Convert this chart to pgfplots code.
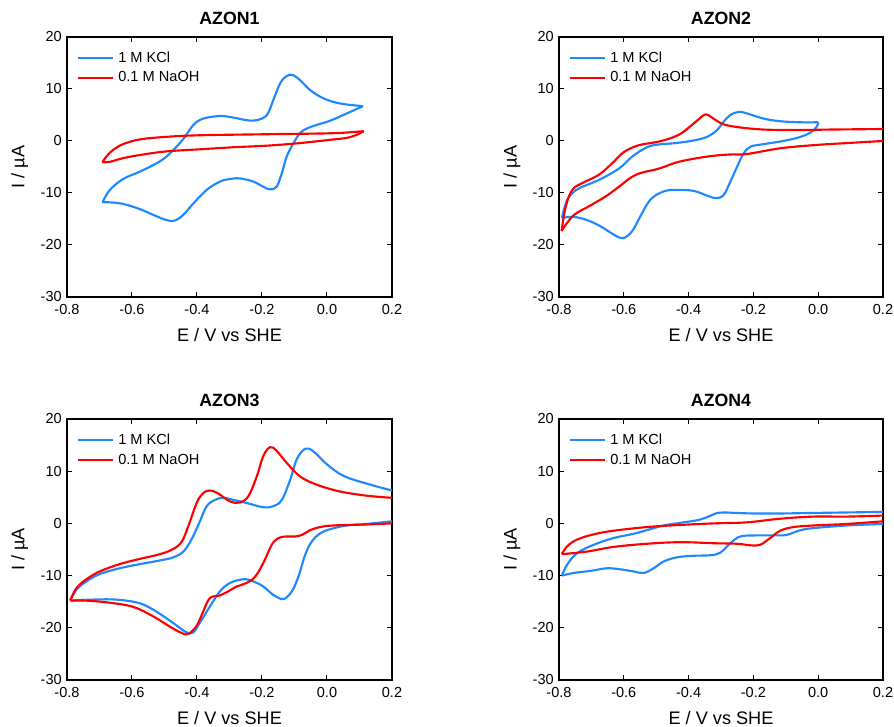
\documentclass[border=0pt]{standalone}
\usepackage{fontspec}
\setmainfont{Liberation Sans}
\usepackage{pgfplots}
\pgfplotsset{compat=1.18}
\definecolor{cblue}{RGB}{30,136,255}
\definecolor{cred}{RGB}{255,0,0}
\pgfplotsset{
  cvaxis/.style={
    scale only axis, width=243.75pt, height=195pt,
    xmin=-0.8, xmax=0.2, ymin=-30, ymax=20,
    xtick={-0.8,-0.6,-0.4,-0.2,0,0.2},
    ytick={-30,-20,-10,0,10,20},
    tick align=inside, major tick length=3.4pt,
    every tick/.style={black, line width=0.75pt},
    axis line style={line width=0.9pt},
    clip=true,
    /pgf/number format/assume math mode=true,
    xticklabel style={/pgf/number format/fixed, /pgf/number format/fixed zerofill, /pgf/number format/precision=1,
      anchor=base, yshift=-13.5pt, font=\fontsize{10.9pt}{13pt}\selectfont},
    yticklabel style={anchor=east, inner sep=0pt, xshift=-3.75pt, font=\fontsize{10.9pt}{13pt}\selectfont},
    every axis title/.style={at={(axis description cs:0.5,1.049)}, anchor=base, font=\bfseries\fontsize{13.3pt}{16pt}\selectfont},
    every axis x label/.style={at={(axis description cs:0.5,-0.171)}, anchor=base, font=\fontsize{13.6pt}{16pt}\selectfont},
    every axis y label/.style={at={(axis description cs:-0.131,0.5)}, rotate=90, anchor=base, font=\fontsize{13.6pt}{16pt}\selectfont},
    xlabel={E / V vs SHE}, ylabel={I / µA},
    legend style={draw=none, fill=none, at={(axis description cs:0.0297,0.949)}, anchor=north west,
      inner sep=0pt, row sep=3.5pt, column sep=2.2pt, font=\fontsize{10.95pt}{13pt}\selectfont, nodes={inner sep=1pt}},
    legend cell align=left,
    legend image code/.code={\draw[##1, line width=1.6pt] (0pt,0pt) -- (26.25pt,0pt);},
  },
  kcl/.style={cblue, line width=1.6pt, smooth, tension=0.6, no markers},
  naoh/.style={cred, line width=1.6pt, smooth, tension=0.6, no markers},
}
\begin{document}
\begin{tikzpicture}
\useasboundingbox (0,0) rectangle (670.5pt,545.25pt);

% ---------------- AZON1 ----------------
\begin{axis}[cvaxis, at={(50.25pt,322.5pt)}, anchor=south west, title={AZON1}]
\addplot[kcl] coordinates {(-0.691,-11.8) (-0.668,-9.4) (-0.627,-7.3) (-0.576,-5.9) (-0.525,-4.3) (-0.494,-3.0) (-0.463,-1.1) (-0.437,0.8) (-0.411,3.1) (-0.381,4.3) (-0.329,4.8) (-0.288,4.5) (-0.247,4.0) (-0.216,4.0) (-0.185,5.0) (-0.165,7.9) (-0.144,11.1) (-0.124,12.5) (-0.105,12.7) (-0.083,11.7) (-0.052,9.8) (-0.011,8.2) (0.041,7.2) (0.111,6.7)};
\addlegendentry{1 M KCl}
\addplot[kcl, forget plot] coordinates {(0.111,6.7) (0.061,5.3) (0.010,3.9) (-0.021,3.3) (-0.062,2.4) (-0.083,1.5) (-0.103,-0.4) (-0.124,-3.0) (-0.139,-6.2) (-0.155,-8.8) (-0.175,-9.3) (-0.196,-8.8) (-0.227,-7.8) (-0.268,-7.2) (-0.298,-7.3) (-0.329,-7.8) (-0.370,-9.4) (-0.411,-12.0) (-0.442,-14.2) (-0.468,-15.3) (-0.494,-15.2) (-0.535,-14.2) (-0.576,-13.1) (-0.627,-12.1) (-0.668,-11.8) (-0.691,-11.8)};
\addplot[naoh] coordinates {(-0.691,-4.1) (-0.679,-3.0) (-0.658,-1.7) (-0.627,-0.6) (-0.576,0.3) (-0.494,0.8) (-0.391,1.1) (-0.185,1.3) (0.020,1.5) (0.113,1.9)};
\addlegendentry{0.1 M NaOH}
\addplot[naoh, forget plot] coordinates {(0.113,1.9) (0.092,1.2) (0.061,0.6) (0.020,0.3) (-0.083,-0.4) (-0.185,-0.9) (-0.288,-1.2) (-0.391,-1.6) (-0.494,-2.0) (-0.576,-2.7) (-0.627,-3.3) (-0.668,-4.0) (-0.691,-4.1)};
\end{axis}

% ---------------- AZON2 ----------------
\begin{axis}[cvaxis, width=243pt, at={(419.25pt,322.5pt)}, anchor=south west, title={AZON2}]
\addplot[kcl] coordinates {(-0.791,-14.8) (-0.783,-12.8) (-0.769,-10.7) (-0.738,-9.1) (-0.677,-7.5) (-0.615,-5.3) (-0.574,-3.0) (-0.540,-1.6) (-0.508,-0.8) (-0.440,-0.4) (-0.384,0.1) (-0.343,0.8) (-0.312,2.1) (-0.292,3.7) (-0.271,5.0) (-0.245,5.6) (-0.220,5.3) (-0.168,4.3) (-0.117,3.8) (-0.055,3.6) (0.0,3.6)};
\addlegendentry{1 M KCl}
\addplot[kcl, forget plot] coordinates {(0.0,3.6) (-0.003,2.9) (-0.024,1.6) (-0.065,0.6) (-0.117,-0.1) (-0.168,-0.6) (-0.209,-1.1) (-0.230,-2.4) (-0.250,-4.9) (-0.271,-7.8) (-0.292,-10.4) (-0.317,-11.0) (-0.343,-10.5) (-0.384,-9.6) (-0.436,-9.4) (-0.477,-9.7) (-0.518,-11.3) (-0.549,-14.5) (-0.575,-17.4) (-0.603,-18.7) (-0.631,-18.0) (-0.672,-16.4) (-0.714,-15.2) (-0.755,-14.6) (-0.791,-14.8)};
\addplot[naoh] coordinates {(-0.792,-17.3) (-0.779,-12.6) (-0.759,-9.4) (-0.728,-8.1) (-0.677,-6.5) (-0.636,-4.3) (-0.599,-2.1) (-0.553,-0.8) (-0.491,-0.1) (-0.430,1.2) (-0.378,3.7) (-0.348,5.1) (-0.323,4.3) (-0.292,3.2) (-0.240,2.6) (-0.168,2.2) (-0.065,2.1) (0.037,2.2) (0.2,2.3)};
\addlegendentry{0.1 M NaOH}
\addplot[naoh, forget plot] coordinates {(0.2,0.0) (0.089,-0.4) (-0.014,-0.8) (-0.117,-1.4) (-0.220,-2.5) (-0.275,-2.6) (-0.343,-3.0) (-0.430,-4.0) (-0.491,-5.3) (-0.563,-6.5) (-0.615,-8.8) (-0.652,-10.5) (-0.703,-12.4) (-0.755,-14.3) (-0.792,-17.3)};
\end{axis}

% ---------------- AZON3 ----------------
\begin{axis}[cvaxis, height=195.75pt, at={(50.25pt,35.25pt)}, anchor=south west, title={AZON3}]
\addplot[kcl] coordinates {(-0.790,-14.8) (-0.771,-12.7) (-0.740,-11.1) (-0.699,-9.7) (-0.638,-8.6) (-0.576,-7.8) (-0.514,-7.1) (-0.473,-6.5) (-0.442,-5.4) (-0.417,-3.1) (-0.391,0.4) (-0.370,3.3) (-0.345,4.5) (-0.319,4.9) (-0.288,4.5) (-0.247,3.9) (-0.196,3.1) (-0.165,3.3) (-0.139,4.5) (-0.113,8.4) (-0.093,12.3) (-0.067,14.3) (-0.042,13.8) (0.000,11.3) (0.051,9.1) (0.123,7.6) (0.2,6.3)};
\addlegendentry{1 M KCl}
\addplot[kcl, forget plot] coordinates {(0.2,0.4) (0.123,-0.1) (0.061,-0.4) (0.010,-1.1) (-0.021,-1.9) (-0.047,-3.5) (-0.067,-6.0) (-0.088,-10.2) (-0.108,-13.0) (-0.134,-14.5) (-0.165,-13.7) (-0.196,-12.1) (-0.227,-11.1) (-0.257,-10.7) (-0.298,-11.4) (-0.329,-13.0) (-0.360,-15.9) (-0.391,-19.0) (-0.414,-21.0) (-0.437,-20.7) (-0.473,-19.1) (-0.525,-16.9) (-0.576,-15.3) (-0.648,-14.6) (-0.720,-14.6) (-0.790,-14.8)};
\addplot[naoh] coordinates {(-0.790,-14.8) (-0.771,-12.4) (-0.740,-10.7) (-0.699,-9.2) (-0.638,-7.8) (-0.576,-6.8) (-0.514,-5.9) (-0.473,-4.9) (-0.447,-3.5) (-0.427,-0.6) (-0.401,3.9) (-0.381,5.8) (-0.360,6.3) (-0.334,5.7) (-0.298,4.2) (-0.268,4.0) (-0.242,5.2) (-0.216,9.0) (-0.196,12.9) (-0.175,14.6) (-0.155,13.9) (-0.124,11.6) (-0.083,9.0) (-0.031,7.4) (0.041,6.1) (0.123,5.3) (0.2,4.9)};
\addlegendentry{0.1 M NaOH}
\addplot[naoh, forget plot] coordinates {(0.2,0.0) (0.123,-0.2) (0.020,-0.4) (-0.021,-0.7) (-0.052,-1.3) (-0.077,-2.2) (-0.098,-2.5) (-0.124,-2.5) (-0.149,-2.8) (-0.170,-4.1) (-0.196,-7.6) (-0.221,-10.2) (-0.247,-11.4) (-0.278,-12.1) (-0.309,-13.2) (-0.329,-13.8) (-0.360,-14.3) (-0.381,-16.9) (-0.401,-19.6) (-0.427,-21.2) (-0.447,-21.0) (-0.483,-19.8) (-0.535,-17.8) (-0.596,-16.0) (-0.668,-15.2) (-0.740,-14.8) (-0.790,-14.8)};
\end{axis}

% ---------------- AZON4 ----------------
\begin{axis}[cvaxis, width=243pt, height=195.75pt, at={(419.25pt,35.25pt)}, anchor=south west, title={AZON4}]
\addplot[kcl] coordinates {(-0.791,-10.0) (-0.775,-7.9) (-0.744,-5.7) (-0.693,-4.1) (-0.631,-2.8) (-0.570,-2.0) (-0.518,-1.1) (-0.477,-0.4) (-0.426,0.1) (-0.374,0.6) (-0.343,1.2) (-0.312,2.0) (-0.292,2.1) (-0.251,2.0) (-0.201,1.9) (-0.117,1.9) (-0.014,2.0) (0.2,2.2)};
\addlegendentry{1 M KCl}
\addplot[kcl, forget plot] coordinates {(0.2,-0.1) (0.089,-0.4) (-0.014,-0.9) (-0.055,-1.3) (-0.097,-2.2) (-0.137,-2.3) (-0.188,-2.3) (-0.240,-2.5) (-0.271,-3.8) (-0.302,-5.6) (-0.333,-6.1) (-0.384,-6.2) (-0.436,-6.5) (-0.477,-7.3) (-0.508,-8.6) (-0.539,-9.5) (-0.570,-9.2) (-0.611,-8.8) (-0.652,-8.6) (-0.703,-9.1) (-0.755,-9.5) (-0.791,-10.0)};
\addplot[naoh] coordinates {(-0.791,-5.9) (-0.775,-4.4) (-0.744,-3.1) (-0.693,-2.1) (-0.631,-1.4) (-0.528,-0.7) (-0.426,-0.3) (-0.323,0.0) (-0.220,0.2) (-0.117,0.9) (-0.014,1.3) (0.089,1.3) (0.2,1.5)};
\addlegendentry{0.1 M NaOH}
\addplot[naoh, forget plot] coordinates {(0.2,0.4) (0.089,-0.1) (-0.014,-0.4) (-0.076,-0.7) (-0.117,-1.4) (-0.148,-2.8) (-0.179,-4.1) (-0.209,-4.2) (-0.251,-3.9) (-0.323,-3.8) (-0.426,-3.6) (-0.528,-3.9) (-0.631,-4.5) (-0.714,-5.4) (-0.791,-5.9)};
\end{axis}
\end{tikzpicture}
\end{document}
